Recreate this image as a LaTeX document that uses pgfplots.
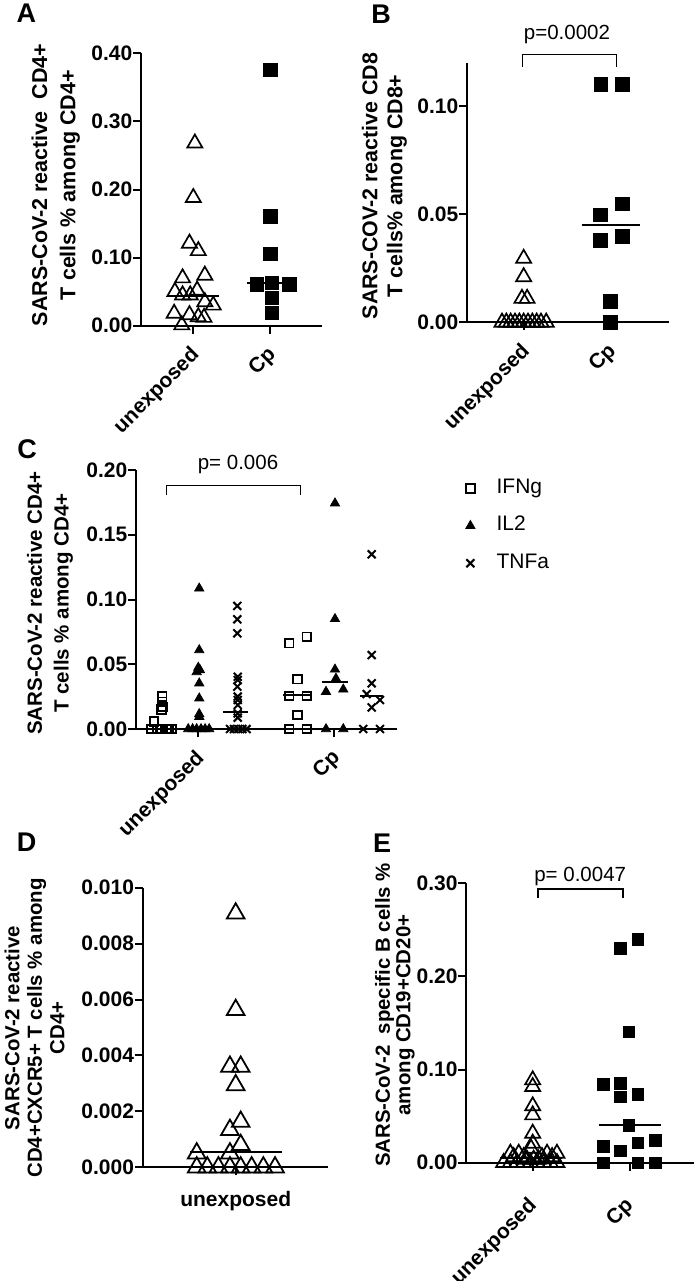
\documentclass[border=0pt]{standalone}
\usepackage{fontspec}
\setmainfont{Liberation Sans}
\usepackage{pgfplots}
\pgfplotsset{compat=1.18}
\newcommand{\tf}{\bfseries\fontsize{21}{25}\selectfont}
\pgfplotsset{
 gp/.style={
  scale only axis,
  axis lines=left,
  axis line style={line width=2pt,-},
  every inner x axis line/.append style={-},
  every outer x axis line/.append style={-},
  every inner y axis line/.append style={-},
  every outer y axis line/.append style={-},
  tick align=outside,
  major tick length=8pt,
  tick style={line width=2pt,black},
  clip=false,
  scaled y ticks=false,
  ymin=0,
  yticklabel style={font=\tf, inner sep=0.5pt},
 },
 rotlab/.style 2 args={
  xtick={1,2},
  xticklabels={unexposed,Cp},
  xticklabel style={font=\tf, inner sep=0pt, xshift=#1, yshift=#2, rotate=45, anchor=north east},
 },
 otri/.style={only marks, mark=triangle, mark size=8.7pt, mark options={draw=black, fill=white, line width=1.7pt}},
 fsq/.style={only marks, mark=square*, mark size=6.7pt, mark options={draw=black, fill=black}},
 med/.style={black, line width=2pt, no marks, forget plot},
 csq/.style={only marks, mark=square, mark size=4.3pt, mark options={line width=1.7pt, draw=black}},
 ctri/.style={only marks, mark=triangle*, mark size=5.3pt, mark options={fill=black, draw=black, line width=0.8pt}},
 cx/.style={only marks, mark=x, mark size=5.6pt, mark options={line width=2pt, draw=black}},
}
\begin{document}
\begin{tikzpicture}
\path[use as bounding box] (0pt,0pt) rectangle (694pt,-1281pt);

% ---------------- Panel A
\begin{axis}[gp, rotlab={-4pt}{-11pt}, at={(141pt,-325.7pt)}, anchor=south west,
  width=180.7pt, height=272.4pt, xmin=0.318, xmax=2.674, ymax=0.4,
  ytick={0,0.1,0.2,0.3,0.4}, yticklabels={0.00,0.10,0.20,0.30,0.40}]
\addplot[otri] coordinates {(1.02,0.268)(1.00,0.188)(0.95,0.121)(1.065,0.110)(0.86,0.070)(1.15,0.074)
 (0.76,0.050)(0.86,0.045)(0.96,0.045)(1.05,0.052)(1.15,0.035)(1.26,0.030)(0.75,0.018)(0.95,0.016)
 (1.065,0.013)(1.14,0.012)(0.85,0.001)};
\addplot[med] coordinates {(0.74,0.044)(1.33,0.044)};
\addplot[fsq] coordinates {(2.0,0.376)(2.0,0.161)(2.0,0.106)(1.83,0.061)(2.02,0.063)(2.25,0.061)(2.02,0.041)(2.02,0.019)};
\addplot[med] coordinates {(1.70,0.062)(2.35,0.062)};
\end{axis}

% ---------------- Panel B
\begin{axis}[gp, rotlab={-4pt}{-11pt}, at={(467pt,-322.3pt)}, anchor=south west,
  width=201.7pt, height=259pt, xmin=0.346, xmax=2.674, ymax=0.1197,
  ytick={0,0.05,0.1}, yticklabels={0.00,0.05,0.10}]
\addplot[otri] coordinates {(0.75,0)(0.80,0)(0.85,0)(0.90,0)(0.95,0)(1.0,0)(1.05,0)(1.10,0)(1.15,0)(1.20,0)(1.26,0)
 (1.0,0.0295)(1.0,0.021)(0.98,0.011)(1.04,0.011)};
\addplot[fsq] coordinates {(1.89,0.110)(2.135,0.110)(2.135,0.0549)(1.885,0.0498)(1.885,0.038)(2.135,0.0398)(2.0,0.0098)(2.0,0)};
\addplot[med] coordinates {(1.67,0.0449)(2.34,0.0449)};
\draw[line width=1pt] (axis cs:0.99,0.1182) -- (axis cs:0.99,0.1236) -- (axis cs:2.077,0.1236) -- (axis cs:2.077,0.1182);
\node[font=\fontsize{20.5}{24}\selectfont] at (axis cs:1.5,0.1328) {p=0.0002};
\end{axis}

% ---------------- Panel C
\begin{axis}[gp, rotlab={-4pt}{-11pt}, at={(136pt,-729pt)}, anchor=south west,
  width=261pt, height=259pt, xmin=0.542, xmax=2.461, ymax=0.2,
  ytick={0,0.05,0.1,0.15,0.2}, yticklabels={0.00,0.05,0.10,0.15,0.20},
  legend style={draw=none, fill=none, at={(axis description cs:1.2605,0.969)}, anchor=north west,
    inner sep=0pt, font=\fontsize{21}{25}\selectfont, row sep=17pt,
    nodes={inner sep=0pt, text height=15pt, text depth=5pt}},
  legend cell align=left,
  legend image code/.code={\draw[#1] plot coordinates {(0pt,0pt)}; \path (-5pt,-10pt) (26pt,10pt);}]
\addplot[csq] coordinates {(0.735,0.025)(0.735,0.021)(0.74,0.017)(0.73,0.015)(0.674,0.0057)
 (0.657,0)(0.694,0)(0.73,0)(0.767,0)(0.804,0)(0.70,0)(0.78,0)
 (1.669,0.0662)(1.797,0.0713)(1.730,0.0384)(1.669,0.0255)(1.797,0.0255)(1.730,0.0108)(1.669,0)(1.797,0)};
\addlegendentry{IFNg}
\addplot[ctri] coordinates {(1.007,0.1086)(1.007,0.061)(1.0,0.0474)(1.012,0.0456)(0.988,0.044)(1.007,0.0353)
 (1.007,0.0237)(1.007,0.0116)(1.007,0.0095)(0.926,0)(0.958,0)(0.988,0)(1.02,0)(1.05,0)(1.08,0)
 (2.005,0.1743)(2.005,0.085)(2.005,0.046)(2.012,0.039)(1.939,0.0288)(2.066,0.0306)(1.939,0)(2.066,0)};
\addlegendentry{IL2}
\addplot[cx] coordinates {(1.287,0.095)(1.287,0.0847)(1.287,0.0739)(1.29,0.0404)(1.29,0.0378)(1.287,0.0327)
 (1.29,0.025)(1.29,0.0224)(1.29,0.0185)(1.29,0.0121)(1.29,0.0088)(1.233,0)(1.262,0)(1.294,0)(1.324,0)(1.355,0)
 (2.275,0.1349)(2.275,0.0571)(2.275,0.0353)(2.238,0.027)(2.336,0.0224)(2.275,0.0167)(2.213,0)(2.336,0)};
\addlegendentry{TNFa}
\addplot[med] coordinates {(1.184,0.0129)(1.368,0.0129)};
\addplot[med] coordinates {(1.625,0.026)(1.833,0.026)};
\addplot[med] coordinates {(1.907,0.0365)(2.103,0.0365)};
\addplot[med] coordinates {(2.189,0.0255)(2.36,0.0255)};
\draw[line width=1pt] (axis cs:0.768,0.1807) -- (axis cs:0.768,0.1879) -- (axis cs:1.753,0.1879) -- (axis cs:1.753,0.1807);
\node[font=\fontsize{20.5}{24}\selectfont] at (axis cs:1.292,0.2039) {p= 0.006};
\end{axis}

% ---------------- Panel D
\begin{axis}[gp, at={(142.7pt,-1167.3pt)}, anchor=south west,
  width=185.6pt, height=279.6pt, xmin=0, xmax=1, ymax=0.01,
  ytick={0,0.002,0.004,0.006,0.008,0.01}, yticklabels={0.000,0.002,0.004,0.006,0.008,0.010},
  xtick={0.501}, xticklabels={unexposed},
  xticklabel style={font=\tf, anchor=north, yshift=-12pt}]
\addplot[otri, mark size=10.2pt, mark options={line width=1.8pt}] coordinates {(0.501,0.00908)(0.501,0.00563)(0.47,0.0036)(0.528,0.0036)(0.501,0.00294)
 (0.528,0.00163)(0.47,0.00134)(0.528,0.0008)(0.47,0.0005)(0.291,0.0005)
 (0.291,0)(0.348,0)(0.408,0)(0.47,0)(0.528,0)(0.587,0)(0.65,0)(0.713,0)};
\addplot[med] coordinates {(0.255,0.00056)(0.749,0.00056)};
\end{axis}

% ---------------- Panel E
\begin{axis}[gp, rotlab={-6pt}{-25pt}, at={(466.3pt,-1162.7pt)}, anchor=south west,
  width=227.4pt, height=279.4pt, xmin=0.3155, xmax=2.66, ymax=0.3,
  ytick={0,0.1,0.2,0.3}, yticklabels={0.00,0.10,0.20,0.30}]
\addplot[otri] coordinates {(0.70,0)(0.77,0)(0.838,0)(0.907,0)(0.976,0)(1.045,0)(1.113,0)(1.182,0)(1.25,0)
 (0.94,0.0036)(1.01,0.0036)(1.06,0.0036)
 (0.804,0.0064)(0.907,0.0064)(1.096,0.0064)(1.2,0.0064)
 (0.77,0.010)(0.856,0.010)(1.148,0.010)(1.25,0.010)
 (0.983,0.0154)(1.0,0.0208)(1.0,0.0315)(1.0,0.0512)(1.0,0.0609)(1.0,0.0816)(1.0,0.0888)};
\addplot[med] coordinates {(0.667,0.0054)(1.302,0.0054)};
\addplot[fsq, mark size=5.8pt] coordinates {(1.904,0.2302)(2.082,0.2399)(1.99,0.1407)(1.725,0.0841)(1.904,0.0852)(1.904,0.0709)
 (2.082,0.0734)(1.99,0.0405)(1.725,0.0179)(2.082,0.0215)(2.265,0.0243)(1.904,0.0129)(1.725,0)(2.082,0)(2.265,0)};
\addplot[med] coordinates {(1.68,0.0405)(2.323,0.0405)};
\draw[line width=2pt] (axis cs:1.055,0.2843) -- (axis cs:1.055,0.294) -- (axis cs:1.93,0.294) -- (axis cs:1.93,0.2843);
\node[font=\fontsize{20.5}{24}\selectfont] at (axis cs:1.49,0.307) {p= 0.0047};
\end{axis}

% ---------------- Labels
\node[font=\bfseries\fontsize{27}{31}\selectfont] at (26.3pt,-13.5pt) {A};
\node[font=\bfseries\fontsize{27}{31}\selectfont] at (381pt,-14.5pt) {B};
\node[font=\bfseries\fontsize{27}{31}\selectfont] at (27pt,-449pt) {C};
\node[font=\bfseries\fontsize{27}{31}\selectfont] at (26.5pt,-842pt) {D};
\node[font=\bfseries\fontsize{27}{31}\selectfont] at (382pt,-843pt) {E};

\node[rotate=90, align=center, font=\bfseries\fontsize{21.5}{28.3}\selectfont] at (55.8pt,-185pt)
 {SARS-CoV-2 reactive\ \ CD4+\\T cells \% among CD4+};
\node[rotate=90, align=center, font=\bfseries\fontsize{21.4}{25}\selectfont] at (384.5pt,-186pt)
 {SARS-COV-2 reactive CD8\\T cells\% among CD8+};
\node[rotate=90, align=center, font=\bfseries\fontsize{20.5}{26.7}\selectfont] at (50pt,-603pt)
 {SARS-CoV-2 reactive CD4+\\T cells \% among CD4+};
\node[rotate=90, align=center, font=\bfseries\fontsize{20.4}{22.5}\selectfont] at (34.5pt,-1028pt)
 {SARS-CoV-2 reactive\\CD4+CXCR5+ T cells \% among\\CD4+};
\node[rotate=90, align=center, font=\bfseries\fontsize{20.4}{20.5}\selectfont] at (395pt,-1015pt)
 {SARS-CoV-2\ \ specific B cells \%\\among CD19+CD20+};
\end{tikzpicture}
\end{document}
